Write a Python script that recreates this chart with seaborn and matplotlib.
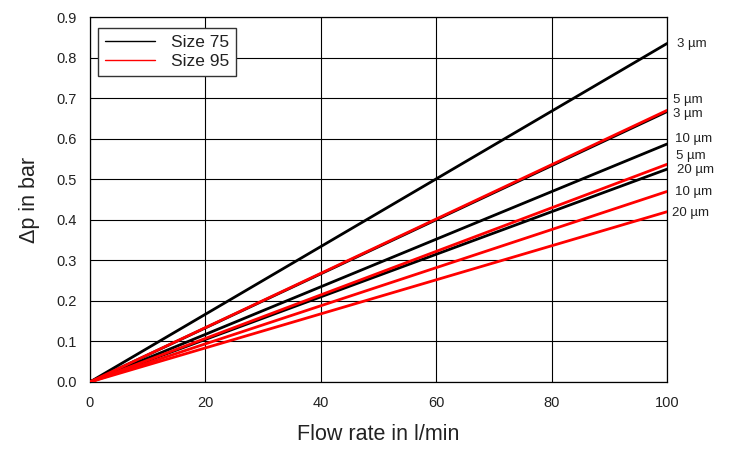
import matplotlib.pyplot as plt
import numpy as np
import pandas as pd
import seaborn as sns
from matplotlib.lines import Line2D

# flow rate range (l/min)
flow = [0, 100]

# pressure drop at 100 l/min (bar), size 75 and size 95
size75_labels = ['3 µm', '5 µm', '10 µm', '20 µm']
size75_dp = [0.835, 0.667, 0.587, 0.525]
size95_labels = ['3 µm', '5 µm', '10 µm', '20 µm']
size95_dp = [0.670, 0.537, 0.470, 0.420]

rows = []
for lab, v in zip(size75_labels, size75_dp):
    for f in flow:
        rows.append(['Size 75', lab, f, v * f / 100])
for lab, v in zip(size95_labels, size95_dp):
    for f in flow:
        rows.append(['Size 95', lab, f, v * f / 100])
df = pd.DataFrame(rows, columns=['size', 'grade', 'flow', 'dp'])

sns.set_style('white')
plt.rcParams['font.family'] = ['Liberation Sans', 'DejaVu Sans']

fig = plt.figure(figsize=(7.31, 4.51), dpi=100)
ax = fig.add_axes([0.123, 0.153, 0.7895, 0.809])

colors = {'Size 75': 'black', 'Size 95': '#ff0000'}
for (s, g), d in df.groupby(['size', 'grade'], sort=False):
    sns.lineplot(data=d, x='flow', y='dp', color=colors[s], lw=2, ax=ax,
                 legend=False, zorder=3)

ax.set_xlim(0, 100)
ax.set_ylim(0, 0.9)
ax.set_xticks(np.arange(0, 101, 20))
ax.set_yticks(np.arange(0, 0.91, 0.1))
ax.set_yticklabels([f'{v:.1f}' for v in np.arange(0, 0.91, 0.1)])
ax.grid(True, color='black', lw=0.8)
for sp in ax.spines.values():
    sp.set_color('black')
    sp.set_linewidth(0.9)
ax.tick_params(axis='y', direction='out', length=6, width=0.8, labelsize=10.5, colors='black', labelcolor='#222222')
ax.tick_params(axis='x', direction='in', length=0, labelsize=10.5, labelcolor='#222222', pad=10)

ax.set_xlabel('Flow rate in l/min', fontsize=15.5, color='#222222', labelpad=10)
ax.set_ylabel('Δp in bar', fontsize=15.5, color='#222222', labelpad=12)

# end labels at right side
label_text = ['3 µm', '5 µm', '3 µm', '10 µm', '5 µm', '20 µm', '10 µm', '20 µm']
label_y = [0.833, 0.695, 0.660, 0.600, 0.557, 0.522, 0.468, 0.417]
label_x = [101.7, 101.0, 101.0, 101.3, 101.5, 101.7, 101.4, 100.9]
for t, y, x in zip(label_text, label_y, label_x):
    ax.text(x, y, t, fontsize=9.5, va='center', ha='left', color='#222222', clip_on=False)

handles = [Line2D([], [], color='black', lw=1), Line2D([], [], color='#ff0000', lw=1)]
leg = ax.legend(handles, ['Size 75', 'Size 95'], loc='upper left', bbox_to_anchor=(0.014, 0.970),
                borderaxespad=0, fontsize=12.5, frameon=True, fancybox=False, framealpha=1,
                edgecolor='#333333', handlelength=2.9, handletextpad=0.9, borderpad=0.4,
                labelspacing=0.2)
leg.get_frame().set_linewidth(1)
for t in leg.get_texts():
    t.set_color('#222222')

fig.savefig('out.png', dpi=100)
